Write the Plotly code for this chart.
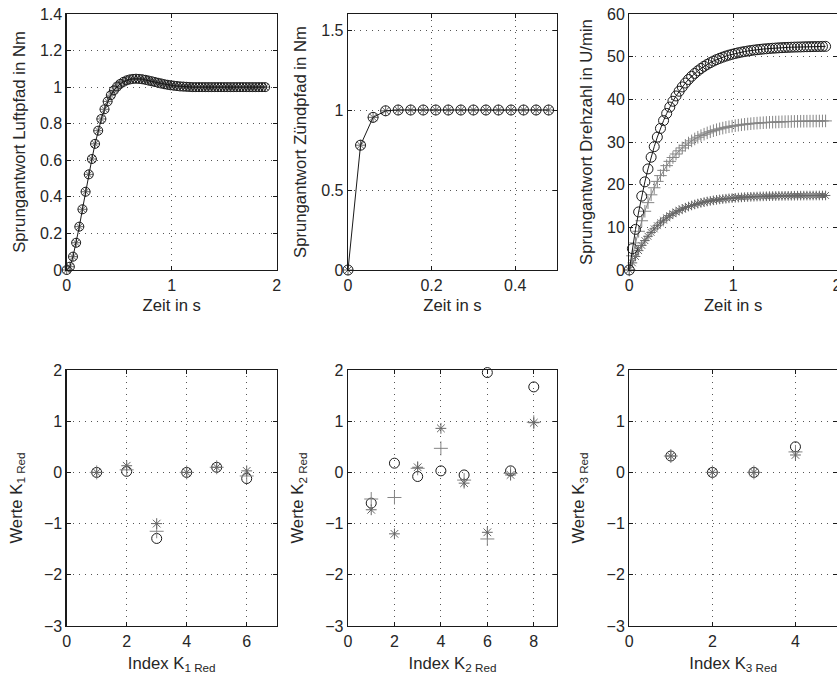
import plotly.graph_objects as go

# ---------------- data ----------------
t_luft = [0.00, 0.03, 0.06, 0.09, 0.12, 0.15, 0.18, 0.21, 0.24, 0.27, 0.30, 0.33, 0.36, 0.39, 0.42, 0.45,
          0.48, 0.51, 0.54, 0.57, 0.60, 0.63, 0.66, 0.69, 0.72, 0.75, 0.78, 0.81, 0.84, 0.87, 0.90, 0.93,
          0.96, 0.99, 1.02, 1.05, 1.08, 1.11, 1.14, 1.17, 1.20, 1.23, 1.26, 1.29, 1.32, 1.35, 1.38, 1.41,
          1.44, 1.47, 1.50, 1.53, 1.56, 1.59, 1.62, 1.65, 1.68, 1.71, 1.74, 1.77, 1.80, 1.83, 1.86, 1.89]
y_luft = [0.000, 0.018, 0.073, 0.149, 0.237, 0.332, 0.428, 0.523, 0.607, 0.690, 0.762, 0.826, 0.879, 0.922,
          0.956, 0.983, 1.003, 1.018, 1.029, 1.037, 1.042, 1.045, 1.046, 1.045, 1.043, 1.040, 1.036, 1.032,
          1.028, 1.024, 1.020, 1.016, 1.013, 1.010, 1.008, 1.006, 1.004, 1.003, 1.002, 1.001, 1.000, 1.000,
          1.000, 1.000, 1.000, 1.000, 1.000, 1.000, 1.000, 1.000, 1.000, 1.000, 1.000, 1.000, 1.000, 1.000,
          1.000, 1.000, 1.000, 1.000, 1.000, 1.000, 1.000, 1.000]

t_zuend = [0.00, 0.03, 0.06, 0.09, 0.12, 0.15, 0.18, 0.21, 0.24, 0.27, 0.30, 0.33, 0.36, 0.39, 0.42, 0.45, 0.48]
y_zuend = [0.000, 0.780, 0.954, 0.995, 1.000, 1.000, 1.000, 1.000, 1.000, 1.000, 1.000, 1.000, 1.000, 1.000,
           1.000, 1.000, 1.000]

t_dreh = t_luft
y_dreh_o = [0.00, 5.00, 9.52, 13.61, 17.31, 20.66, 23.69, 26.43, 28.91, 31.15, 33.19, 35.02, 36.69, 38.19,
            39.55, 40.79, 41.90, 42.91, 43.82, 44.65, 45.40, 46.07, 46.68, 47.23, 47.74, 48.19, 48.60, 48.97,
            49.31, 49.61, 49.89, 50.14, 50.36, 50.56, 50.75, 50.91, 51.07, 51.20, 51.32, 51.44, 51.54, 51.63,
            51.71, 51.79, 51.85, 51.92, 51.97, 52.02, 52.07, 52.11, 52.15, 52.18, 52.21, 52.24, 52.26, 52.28,
            52.31, 52.33, 52.34, 52.36, 52.37, 52.38, 52.40, 52.41]
y_dreh_plus = [0.00, 3.33, 6.35, 9.07, 11.54, 13.77, 15.79, 17.62, 19.27, 20.77, 22.12, 23.35, 24.46, 25.46,
               26.37, 27.19, 27.93, 28.61, 29.21, 29.76, 30.26, 30.71, 31.12, 31.49, 31.83, 32.13, 32.40, 32.65,
               32.87, 33.08, 33.26, 33.43, 33.57, 33.71, 33.83, 33.94, 34.04, 34.14, 34.22, 34.29, 34.36, 34.42,
               34.48, 34.52, 34.57, 34.61, 34.65, 34.68, 34.71, 34.74, 34.77, 34.79, 34.81, 34.82, 34.84, 34.86,
               34.87, 34.88, 34.89, 34.90, 34.91, 34.92, 34.93, 34.94]
y_dreh_star = [0.00, 1.67, 3.17, 4.54, 5.77, 6.89, 7.90, 8.81, 9.64, 10.38, 11.06, 11.67, 12.23, 12.73, 13.18,
               13.60, 13.97, 14.30, 14.61, 14.88, 15.13, 15.36, 15.56, 15.74, 15.91, 16.06, 16.20, 16.32, 16.44,
               16.54, 16.63, 16.71, 16.79, 16.85, 16.92, 16.97, 17.02, 17.07, 17.11, 17.15, 17.18, 17.21, 17.24,
               17.26, 17.28, 17.31, 17.32, 17.34, 17.36, 17.37, 17.38, 17.39, 17.40, 17.41, 17.42, 17.43, 17.44,
               17.44, 17.45, 17.45, 17.46, 17.46, 17.47, 17.47]

idx_k1 = [1, 2, 3, 4, 5, 6]
k1_o = [0.00, 0.02, -1.29, 0.00, 0.10, -0.12]
k1_plus = [0.00, 0.05, -1.15, 0.00, 0.10, -0.07]
k1_star = [0.00, 0.13, -1.00, 0.00, 0.10, 0.03]

idx_k2 = [1, 2, 3, 4, 5, 6, 7, 8]
k2_o = [-0.60, 0.18, -0.08, 0.03, -0.05, 1.95, 0.03, 1.67]
k2_plus = [-0.52, -0.49, 0.08, 0.47, -0.15, -1.30, -0.02, 0.98]
k2_star = [-0.73, -1.20, 0.10, 0.86, -0.21, -1.17, -0.05, 0.97]

idx_k3 = [1, 2, 3, 4]
k3_o = [0.32, 0.00, 0.00, 0.50]
k3_plus = [0.32, 0.00, 0.00, 0.40]
k3_star = [0.32, 0.00, 0.00, 0.34]

# ---------------- styling ----------------
FONT = "Liberation Sans, Arial, Helvetica, sans-serif"
TXT = "#262626"
BLACK = "#1a1a1a"
GRAY_STAR = "#666666"
GRAY_PLUS = "#858585"

W, H = 837, 681
# on-screen pixel boxes of the six plot areas (left, right, top, bottom)
cols = [(66.7, 276.7), (348.0, 557.0), (629.3, 838.0)]
rows = [(14.0, 270.0), (370.0, 626.0)]

fig = go.Figure()


def dom_x(c):
    return [cols[c][0] / W, min(cols[c][1] / W, 1.0)]


def dom_y(r):
    return [(H - rows[r][1]) / H, (H - rows[r][0]) / H]


def o_trace(x, y, ax, size=9, line=False):
    return go.Scatter(x=x, y=y, xaxis="x" + ax, yaxis="y" + ax,
                      mode="lines+markers" if line else "markers",
                      line=dict(color=BLACK, width=1),
                      marker=dict(symbol="circle-open", size=size, color=BLACK, line=dict(width=1, color=BLACK)),
                      cliponaxis=False, showlegend=False, hoverinfo="skip")


def sym_trace(x, y, ax, symbol, color, size=8, line=False):
    return go.Scatter(x=x, y=y, xaxis="x" + ax, yaxis="y" + ax,
                      mode="lines+markers" if line else "markers",
                      line=dict(color=color, width=1),
                      marker=dict(symbol=symbol, size=size, color=color, line=dict(width=1, color=color)),
                      cliponaxis=False, showlegend=False, hoverinfo="skip")


# top-left
fig.add_trace(sym_trace(t_luft, y_luft, "", "asterisk-open", GRAY_STAR, 8))
fig.add_trace(o_trace(t_luft, y_luft, "", 9, line=True))
# top-middle
fig.add_trace(sym_trace(t_zuend, y_zuend, "2", "asterisk-open", GRAY_STAR, 9))
fig.add_trace(o_trace(t_zuend, y_zuend, "2", 10, line=True))
# top-right
fig.add_trace(sym_trace(t_dreh, y_dreh_star, "3", "asterisk-open", GRAY_STAR, 8, line=True))
fig.add_trace(sym_trace(t_dreh, y_dreh_plus, "3", "cross-thin-open", GRAY_PLUS, 9, line=True))
fig.add_trace(o_trace(t_dreh, y_dreh_o, "3", 10, line=True))
# bottom
for ax, idx, yo, yp, ys in [("4", idx_k1, k1_o, k1_plus, k1_star),
                            ("5", idx_k2, k2_o, k2_plus, k2_star),
                            ("6", idx_k3, k3_o, k3_plus, k3_star)]:
    fig.add_trace(o_trace(idx, yo, ax, 10))
    fig.add_trace(sym_trace(idx, yp, ax, "cross-thin-open", GRAY_PLUS, 10))
    fig.add_trace(sym_trace(idx, ys, ax, "asterisk-open", GRAY_STAR, 9))

GRID = dict(showgrid=True, gridcolor="#555555", griddash="1px,5px", gridwidth=1,
            zeroline=False, showline=True, linecolor=BLACK, linewidth=1.3, mirror="ticks",
            ticks="inside", ticklen=4, tickcolor=BLACK, automargin=False, ticklabeloverflow="allow",
            tickfont=dict(family=FONT, size=16, color=TXT))

specs = [
    # axis suffix, col, row, xrange, xticks, yrange, yticks, xtitle, ytitle
    ("", 0, 0, [0, 2], [0, 1, 2], [0, 1.4], [0, 0.2, 0.4, 0.6, 0.8, 1, 1.2, 1.4],
     "Zeit in s", "Sprungantwort Luftpfad in Nm"),
    ("2", 1, 0, [0, 0.5], [0, 0.2, 0.4], [0, 1.6], [0, 0.5, 1, 1.5],
     "Zeit in s", "Sprungantwort Zündpfad in Nm"),
    ("3", 2, 0, [0, 2], [0, 1, 2], [0, 60], [0, 10, 20, 30, 40, 50, 60],
     "Zeit in s", "Sprungantwort Drehzahl in U/min"),
    ("4", 0, 1, [0, 7], [0, 2, 4, 6], [-3, 2], [-3, -2, -1, 0, 1, 2],
     "Index K<sub>1 Red</sub>", "Werte K<sub>1 Red</sub>"),
    ("5", 1, 1, [0, 9], [0, 2, 4, 6, 8], [-3, 2], [-3, -2, -1, 0, 1, 2],
     "Index K<sub>2 Red</sub>", "Werte K<sub>2 Red</sub>"),
    ("6", 2, 1, [0, 5], [0, 2, 4], [-3, 2], [-3, -2, -1, 0, 1, 2],
     "Index K<sub>3 Red</sub>", "Werte K<sub>3 Red</sub>"),
]

layout = {}
for ax, c, r, xr, xt, yr, yt, xtitle, ytitle in specs:
    xs = 6 if r == 0 else 8
    ys = 10 if r == 0 else 17
    layout["xaxis" + ax] = dict(GRID, domain=dom_x(c), range=xr, tickvals=xt, anchor="y" + ax,
                                title=dict(text=xtitle, standoff=xs, font=dict(family=FONT, size=16.7, color=TXT)))
    layout["yaxis" + ax] = dict(GRID, domain=dom_y(r), range=yr, tickvals=yt, anchor="x" + ax,
                                title=dict(text=ytitle, standoff=ys, font=dict(family=FONT, size=16.7, color=TXT)))

fig.update_layout(width=W, height=H, margin=dict(l=0, r=0, t=0, b=0, autoexpand=False),
                  paper_bgcolor="white", plot_bgcolor="white",
                  font=dict(family=FONT, color=TXT), showlegend=False, **layout)

fig.write_html("out.html", config={"displayModeBar": False, "staticPlot": True},
               post_script="document.body.style.margin='0';document.body.style.overflow='hidden';")
